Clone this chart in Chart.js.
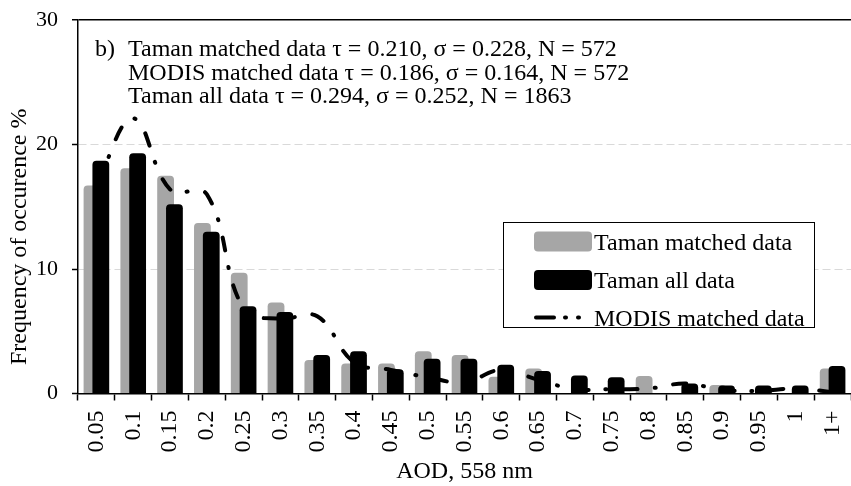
<!DOCTYPE html>
<html lang="en">
<head>
<meta charset="UTF-8">
<title>AOD frequency of occurence</title>
<style>
  html, body { margin: 0; padding: 0; background: #fff; }
  #wrap { width: 851px; height: 486px; }
</style>
</head>
<body>
<div id="wrap"><canvas id="aodChart" width="851" height="486"></canvas></div>

<script src="https://cdn.jsdelivr.net/npm/chart.js"></script>
<script>
// AOD bins (x categories)
const aodBins = ['0.05', '0.1', '0.15', '0.2', '0.25', '0.3', '0.35', '0.4', '0.45', '0.5',
                 '0.55', '0.6', '0.65', '0.7', '0.75', '0.8', '0.85', '0.9', '0.95', '1', '1+'];

// frequency of occurence, %
const tamanMatched = [16.7, 18.1, 17.5, 13.7, 9.7, 7.3, 2.7, 2.4, 2.4, 3.4,
                      3.1, 1.35, 2.0, 0, 0, 1.4, 0, 0.68, 0, 0, 2.0];
const tamanAll     = [18.7, 19.3, 15.2, 13.0, 7.0, 6.55, 3.1, 3.4, 1.95, 2.8,
                      2.8, 2.3, 1.8, 1.45, 1.3, 0, 0.8, 0.65, 0.65, 0.65, 2.2];
const modisMatched = [16.8, 22.1, 16.4, 16.0, 6.8, 6.0, 6.2, 2.5, 1.9, 1.3,
                      0.9, 1.9, 1.1, 0.35, 0.35, 0.4, 0.8, 0.3, 0.2, 0.4, 0.1];

const yTicks = [0, 10, 20, 30];

const panelTag = 'b)';
const statLines = [
    'Taman matched data \u03c4 = 0.210, \u03c3 = 0.228, N = 572',
    'MODIS matched data \u03c4 = 0.186, \u03c3 = 0.164, N = 572',
    'Taman all data \u03c4 = 0.294, \u03c3 = 0.252, N = 1863'
];

const SERIF = '"Liberation Serif", "Times New Roman", serif';
Chart.defaults.font.family = SERIF;
Chart.defaults.color = '#000';

// gray bars go first, then black bars, the MODIS line on top
const layerPlugin = {
    id: 'layer',
    beforeDatasetDraw(chart, args) {
        if (args.index !== 0) return false;
    },
    afterDatasetsDraw(chart) {
        const area = chart.chartArea;
        const ctx = chart.ctx;
        [1, 2].forEach(i => {
            ctx.save();
            ctx.beginPath();
            ctx.rect(area.left, area.top - 4, area.right - area.left, area.bottom - area.top + 4);
            ctx.clip();
            chart.getDatasetMeta(i).controller.draw();
            ctx.restore();
        });
    }
};

// stats text + boxed legend, drawn in the plot like the original
const notesPlugin = {
    id: 'notes',
    afterDraw(chart) {
        const c = chart.ctx;
        c.save();
        c.font = '24px ' + SERIF;
        c.fillStyle = '#000';
        c.textBaseline = 'alphabetic';
        c.fillText(panelTag, 95, 56);
        statLines.forEach((t, i) => c.fillText(t, 128, 56 + i * 23.7));

        // legend box
        c.fillStyle = '#fff';
        c.fillRect(503, 222, 311, 106);
        c.strokeStyle = '#000';
        c.lineWidth = 1;
        c.strokeRect(503.5, 222.5, 311, 105);

        const ds = chart.data.datasets;
        const rows = [241.5, 280, 317.5];
        ds.forEach((d, i) => {
            const y = rows[i];
            if (d.type === 'line') {
                c.strokeStyle = d.borderColor;
                c.lineWidth = d.borderWidth;
                c.lineCap = 'round';
                c.setLineDash([18, 11, 1, 12, 1, 12]);
                c.beginPath();
                c.moveTo(536, y);
                c.lineTo(591, y);
                c.stroke();
                c.setLineDash([]);
            } else {
                c.fillStyle = d.backgroundColor;
                c.beginPath();
                c.roundRect(534, y - 10, 58, 20, 4);
                c.fill();
            }
            c.fillStyle = '#000';
            c.fillText(d.label, 594, y + 8);
        });
        c.restore();
    }
};

new Chart(document.getElementById('aodChart'), {
    data: {
        labels: aodBins,
        datasets: [
            {
                type: 'bar',
                label: 'Taman matched data',
                data: tamanMatched,
                backgroundColor: '#a6a6a6',
                borderRadius: 4,
                categoryPercentage: 0.48,
                barPercentage: 1.9
            },
            {
                type: 'bar',
                label: 'Taman all data',
                data: tamanAll,
                backgroundColor: '#000',
                borderRadius: 4,
                categoryPercentage: 0.48,
                barPercentage: 1.9
            },
            {
                type: 'line',
                label: 'MODIS matched data',
                data: modisMatched,
                borderColor: '#000',
                borderWidth: 4,
                borderDash: [13, 17, 1, 18],
                borderCapStyle: 'round',
                tension: 0.4,
                pointRadius: 0,
                fill: false
            }
        ]
    },
    options: {
        responsive: false,
        animation: false,
        layout: { padding: { top: 20, right: 0, left: 0, bottom: 0 } },
        plugins: {
            legend: { display: false },
            tooltip: { enabled: false }
        },
        scales: {
            x: {
                offset: true,
                grid: {
                    offset: true,
                    drawOnChartArea: false,
                    tickLength: 7,
                    tickWidth: 1.5,
                    tickColor: '#000'
                },
                border: { color: '#000', width: 1.5 },
                ticks: {
                    minRotation: 90,
                    maxRotation: 90,
                    padding: 10,
                    font: { size: 24 },
                    autoSkip: false
                },
                title: {
                    display: true,
                    text: 'AOD, 558 nm',
                    font: { size: 24 },
                    padding: { top: 0, bottom: 0 }
                },
                afterFit(scale) {
                    scale.height = 92.5;
                    scale.paddingLeft = 0;
                    scale.paddingRight = 0;
                }
            },
            y: {
                min: 0,
                max: 30,
                afterBuildTicks(scale) { scale.ticks = yTicks.map(v => ({ value: v })); },
                grid: {
                    color: ctx => ctx.tick && ctx.tick.value === 30 ? '#000' : '#d9d9d9',
                    lineWidth: ctx => ctx.tick && ctx.tick.value === 30 ? 1.5 : 1,
                    tickColor: '#000',
                    tickLength: 6,
                    tickWidth: 1.5
                },
                border: {
                    color: '#000',
                    width: 1.5,
                    dash: ctx => ctx.tick && ctx.tick.value === 30 ? [] : [8, 4]
                },
                ticks: {
                    padding: 14,
                    font: { size: 22 }
                },
                title: {
                    display: true,
                    text: 'Frequency of occurence %' + '          ',
                    font: { size: 24 },
                    padding: { top: 5, bottom: 0 }
                },
                afterFit(scale) {
                    scale.width = 78;
                    scale.paddingTop = 0;
                    scale.paddingBottom = 0;
                }
            }
        }
    },
    plugins: [layerPlugin, notesPlugin]
});
</script>
</body>
</html>
